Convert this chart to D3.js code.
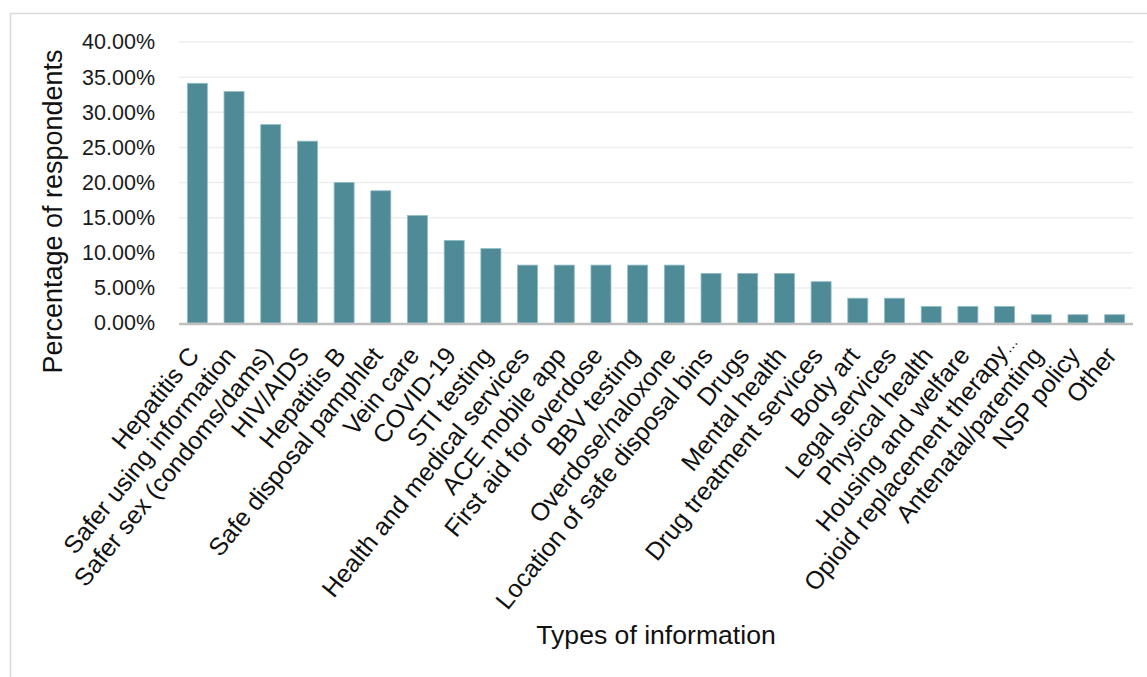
<!DOCTYPE html>
<html>
<head>
<meta charset="utf-8">
<script src="https://cdn.jsdelivr.net/npm/d3@7"></script>
<style>
  html, body { margin: 0; padding: 0; background: #ffffff; }
  svg { display: block; font-family: "Liberation Sans", Arial, sans-serif; }
</style>
</head>
<body>
<svg id="chart" width="1147" height="677"></svg>
<script>
const categories = [
  "Hepatitis C", "Safer using information", "Safer sex (condoms/dams)", "HIV/AIDS",
  "Hepatitis B", "Safe disposal pamphlet", "Vein care", "COVID-19", "STI testing",
  "Health and medical services", "ACE mobile app", "First aid for overdose",
  "BBV testing", "Overdose/naloxone", "Location of safe disposal bins", "Drugs",
  "Mental health", "Drug treatment services", "Body art", "Legal services",
  "Physical health", "Housing and welfare", "Opioid replacement therapy…",
  "Antenatal/parenting", "NSP policy", "Other"
];
const values = [
  0.3412, 0.3294, 0.2824, 0.2588, 0.2000, 0.1882, 0.1529, 0.1176, 0.1059,
  0.0824, 0.0824, 0.0824, 0.0824, 0.0824, 0.0706, 0.0706, 0.0706, 0.0588,
  0.0353, 0.0353, 0.0235, 0.0235, 0.0235, 0.0118, 0.0118, 0.0118
];
const yTicks = [0, 0.05, 0.10, 0.15, 0.20, 0.25, 0.30, 0.35, 0.40];
const xTitle = "Types of information";
const yTitle = "Percentage of respondents";

const svg = d3.select("#chart");
const plot = { left: 179, right: 1133, top: 42, bottom: 323 };

// outer frame
svg.append("rect")
  .attr("x", 10.5).attr("y", 13.5)
  .attr("width", 1150).attr("height", 700)
  .attr("fill", "none").attr("stroke", "#d9d9d9").attr("stroke-width", 1.5);

const x = d3.scaleBand().domain(categories)
  .range([plot.left, plot.right]).paddingInner(0.455).paddingOuter(0.2275);
const y = d3.scaleLinear().domain([0, 0.40]).range([plot.bottom, plot.top]);

// gridlines
svg.append("g").selectAll("line").data(yTicks.filter(d => d > 0)).join("line")
  .attr("x1", plot.left).attr("x2", plot.right)
  .attr("y1", d => y(d)).attr("y2", d => y(d))
  .attr("stroke", "#eeeeee").attr("stroke-width", 1.5);

// y axis labels
const yAxis = d3.axisLeft(y).tickValues(yTicks)
  .tickFormat(d => (d * 100).toFixed(2) + "%").tickSize(0).tickPadding(0);
const gy = svg.append("g").attr("transform", `translate(155,0)`).call(yAxis);
gy.select(".domain").remove();
gy.selectAll("text").attr("font-size", "21.5px").attr("fill", "#1a1a1a")
  .attr("font-family", "'Liberation Sans', Arial, sans-serif");

// bars
svg.append("g").selectAll("rect").data(values).join("rect")
  .attr("x", (d, i) => x(categories[i]))
  .attr("width", x.bandwidth())
  .attr("y", d => y(d))
  .attr("height", d => y(0) - y(d))
  .attr("fill", "#4f8b97")
  .attr("stroke", "#8fbcc4").attr("stroke-width", 0.8);

// x axis line
svg.append("line")
  .attr("x1", plot.left).attr("x2", plot.right)
  .attr("y1", y(0) + 1).attr("y2", y(0) + 1)
  .attr("stroke", "#bfbfbf").attr("stroke-width", 2.5);

// x labels
const xAxis = d3.axisBottom(x).tickSize(0).tickPadding(0);
const gx = svg.append("g").attr("transform", `translate(0,${plot.bottom})`).call(xAxis);
gx.select(".domain").remove();
gx.selectAll("text")
  .attr("font-size", "25px").attr("fill", "#111")
  .attr("font-family", "'Liberation Sans', Arial, sans-serif")
  .attr("text-anchor", "end")
  .attr("y", 0).attr("dy", "0")
  .attr("transform", "translate(3,33) rotate(-51)");

// truncated labels: tighter ellipsis, as the source chart renders it
gx.selectAll("text").filter(d => d.endsWith("…")).each(function(d) {
  const t = d3.select(this);
  t.text(null).attr("dx", "0.7em");
  t.append("tspan").text(d.slice(0, -1));
  t.append("tspan").attr("font-size", "15px").text("…");
});

// axis titles
svg.append("text")
  .attr("x", 656).attr("y", 644)
  .attr("text-anchor", "middle").attr("font-size", "26.6px").attr("fill", "#111")
  .text(xTitle);
svg.append("text")
  .attr("transform", `translate(62,211.5) rotate(-90)`)
  .attr("text-anchor", "middle").attr("font-size", "27px").attr("fill", "#111")
  .text(yTitle);
</script>
</body>
</html>
